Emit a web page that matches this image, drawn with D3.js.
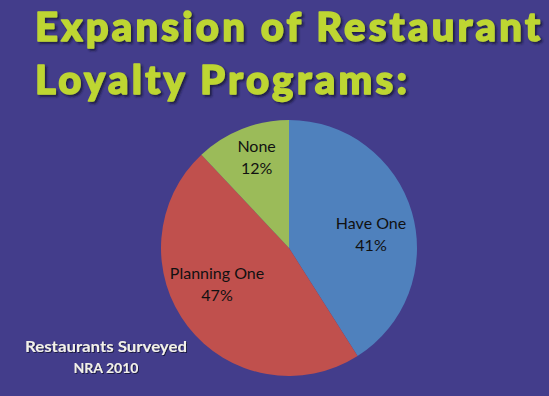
<!DOCTYPE html>
<html>
<head>
<meta charset="utf-8">
<script src="https://cdn.jsdelivr.net/npm/d3@7"></script>
<style>
  html, body { margin: 0; padding: 0; background: #433d8b; }
  svg { display: block; }
</style>
</head>
<body>
<div id="chart"></div>
<script>
const categories = ['Have One', 'Planning One', 'None'];
const values = [41, 47, 12];
const colors = ['#4f81bd', '#c0504d', '#9bbb59'];
const titleLines = ['Expansion of Restaurant', 'Loyalty Programs:'];
const noteLines = ['Restaurants Surveyed', 'NRA 2010'];

const width = 549;
const height = 396;

const svg = d3.select('#chart').append('svg')
    .attr('width', width)
    .attr('height', height);

svg.append('rect')
    .attr('width', width)
    .attr('height', height)
    .attr('fill', '#433d8b');

// dark drop shadow for title and note
const defs = svg.append('defs');
const shadow = defs.append('filter').attr('id', 'shadow')
    .attr('filterUnits', 'userSpaceOnUse')
    .attr('x', 0).attr('y', 0).attr('width', width).attr('height', height);
shadow.append('feDropShadow')
    .attr('dx', 2).attr('dy', 2).attr('stdDeviation', 0.8)
    .attr('flood-color', '#16123a').attr('flood-opacity', 0.85);

const smallShadow = defs.append('filter').attr('id', 'small-shadow')
    .attr('filterUnits', 'userSpaceOnUse')
    .attr('x', 0).attr('y', 0).attr('width', width).attr('height', height);
smallShadow.append('feDropShadow')
    .attr('dx', 1).attr('dy', 1).attr('stdDeviation', 0.4)
    .attr('flood-color', '#16123a').attr('flood-opacity', 0.9);

// title
const title = svg.append('g').attr('filter', 'url(#shadow)');
const titleWidths = [505, 372];
const titleBaselines = [41, 94];
titleLines.forEach((line, i) => {
    title.append('text')
        .attr('x', 35)
        .attr('y', titleBaselines[i])
        .attr('textLength', titleWidths[i])
        .attr('lengthAdjust', 'spacing')
        .attr('font-family', 'Lato, sans-serif')
        .attr('font-weight', 900)
        .attr('font-size', 40)
        .attr('fill', '#bed631')
        .attr('stroke', '#bed631')
        .attr('stroke-width', 1.5)
        .attr('stroke-linejoin', 'round')
        .text(line);
});

// pie
const cx = 289;
const cy = 248;
const radius = 128;

const pie = d3.pie().sort(null).value(d => d.value);
const data = pie(categories.map((c, i) => ({name: c, value: values[i], color: colors[i]})));

const arc = d3.arc().innerRadius(0).outerRadius(radius);

const pieGroup = svg.append('g').attr('transform', `translate(${cx},${cy})`);

pieGroup.selectAll('path')
    .data(data)
    .enter()
    .append('path')
    .attr('d', arc)
    .attr('fill', d => d.data.color);

// label placement inside each slice (radius fraction, angle nudge in degrees)
const labelPlacement = {
    'Have One': {r: 0.65, shift: 6.5},
    'Planning One': {r: 0.63, shift: 11},
    'None': {r: 0.755, shift: 2},
};

const labelPos = (d) => {
    const p = labelPlacement[d.data.name];
    const a = (d.startAngle + d.endAngle) / 2 + p.shift * Math.PI / 180;
    const r = radius * p.r;
    return [r * Math.sin(a), -r * Math.cos(a)];
};

const labels = pieGroup.selectAll('text')
    .data(data)
    .enter()
    .append('text')
    .attr('transform', d => `translate(${labelPos(d)})`)
    .attr('text-anchor', 'middle')
    .attr('font-family', 'Lato, sans-serif')
    .attr('font-size', 16)
    .attr('fill', '#111');

labels.append('tspan')
    .attr('x', 0)
    .attr('dy', -5)
    .text(d => d.data.name);

labels.append('tspan')
    .attr('x', 0)
    .attr('dy', 22)
    .text(d => `${d.data.value}%`);

// source note
const note = svg.append('g').attr('filter', 'url(#small-shadow)');
noteLines.forEach((line, i) => {
    const t = note.append('text')
        .attr('x', 106)
        .attr('y', 352 + i * 20.5)
        .attr('text-anchor', 'middle')
        .attr('font-family', 'Lato, sans-serif')
        .attr('font-weight', 'bold')
        .attr('font-size', i === 0 ? 15 : 14)
        .attr('fill', '#f2f0ea')
        .text(line);
    if (i === 0) {
        t.attr('textLength', 162).attr('lengthAdjust', 'spacingAndGlyphs');
    }
});
</script>
</body>
</html>
